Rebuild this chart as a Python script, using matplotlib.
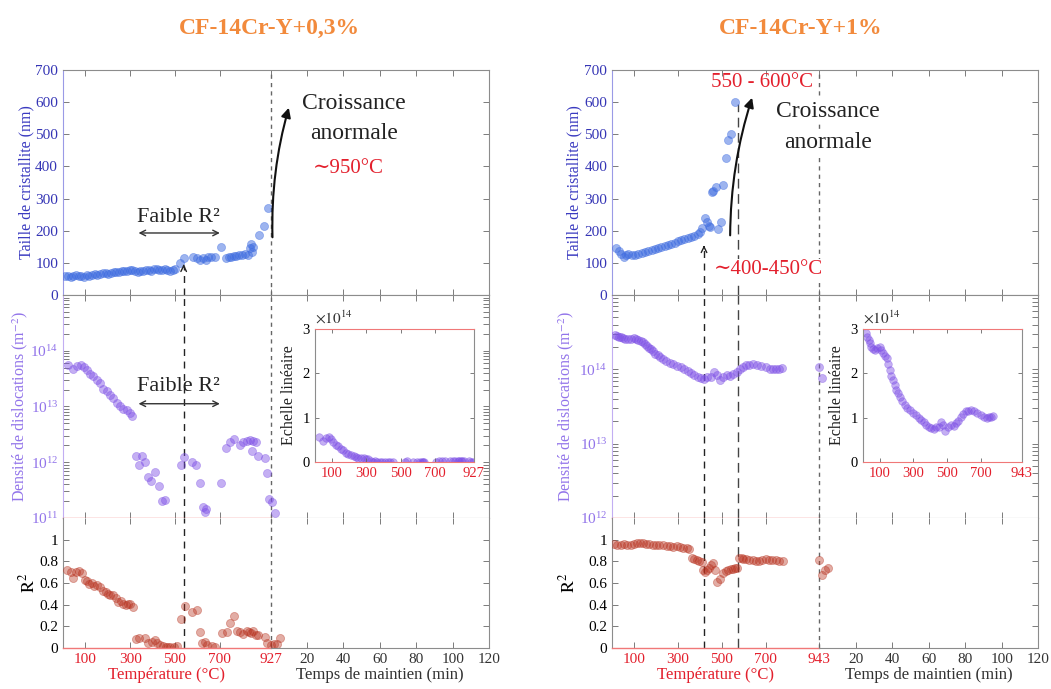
import matplotlib.pyplot as plt
import matplotlib.transforms as mtransforms
from matplotlib.ticker import NullFormatter
import numpy as np

plt.rcParams['font.family'] = ['Liberation Serif', 'DejaVu Serif']
plt.rcParams['mathtext.fontset'] = 'stix'

# ---------------- data : CF-14Cr-Y+0,3% ----------------
temp_taille_03 = [10, 22, 34, 46, 58, 70, 82, 94, 106, 118, 130, 142, 154, 166, 178, 190, 202, 214,
                  226, 238, 250, 262, 274, 286, 298, 310, 322, 334, 346, 358, 370, 382, 394, 406,
                  418, 430, 442, 454, 466, 478, 490, 502, 521, 539, 581, 600, 611, 626, 640, 648,
                  662, 677, 704, 729, 740, 752, 763, 774, 788, 801, 814, 826, 836, 841, 845, 850,
                  875, 899, 915]
taille_03 = [60, 58, 56, 60, 61, 58, 60, 57, 62, 60, 63, 64, 62, 66, 67, 68, 66, 70, 72, 71, 73,
             74, 76, 75, 78, 77, 74, 73, 76, 75, 77, 78, 76, 80, 82, 79, 78, 80, 77, 75, 78, 80,
             100, 114, 119, 116, 109, 114, 110, 119, 117, 119, 148, 114, 118, 119, 122, 121, 123,
             124, 128, 125, 145, 158, 135, 150, 187, 215, 272]

temp_rho_03 = [24, 46, 64, 79, 93, 108, 123, 135, 150, 165, 180, 195, 210, 225, 240, 254, 269, 284,
               299, 310, 325, 339, 352, 365, 379, 392, 410, 428, 441, 455, 526, 539, 575, 593, 611,
               624, 633, 637, 704, 726, 744, 762, 789, 805, 820, 835, 842, 850, 860, 873, 900, 913,
               922]
rho_03 = [5.6e13, 4.7e13, 5.4e13, 5.6e13, 5.2e13, 4.6e13, 3.9e13, 3.5e13, 3.0e13, 2.6e13, 2.1e13,
          1.9e13, 1.6e13, 1.4e13, 1.15e13, 1.0e13, 9.1e12, 8.5e12, 7.6e12, 6.8e12, 1.3e12, 9.1e11,
          1.3e12, 1.0e12, 5.4e11, 4.6e11, 6.6e11, 3.7e11, 2.0e11, 2.1e11, 8.9e11, 1.23e12, 1.0e12,
          8.9e11, 4.3e11, 1.6e11, 1.26e11, 1.45e11, 4.3e11, 1.78e12, 2.3e12, 2.6e12, 2.0e12, 2.3e12,
          2.4e12, 2.5e12, 1.6e12, 2.4e12, 2.3e12, 1.3e12, 1.17e12, 6.3e11, 2.2e11]
time_rho_03 = [1.0, 2.7]
rho_time_03 = [1.95e11, 1.23e11]

temp_r2_03 = [18, 35, 45, 58, 71, 85, 98, 108, 116, 130, 140, 151, 165, 178, 190, 200, 212, 225,
              235, 245, 257, 267, 280, 290, 300, 312, 325, 340, 365, 380, 396, 410, 420, 432, 445,
              460, 468, 480, 495, 508, 526, 544, 575, 597, 611, 620, 633, 645, 664, 680, 709, 731,
              744, 762, 775, 790, 805, 820, 830, 840, 850, 860, 873, 900, 909]
r2_03 = [0.72, 0.70, 0.65, 0.70, 0.71, 0.69, 0.63, 0.62, 0.59, 0.60, 0.57, 0.58, 0.56, 0.53, 0.52,
         0.50, 0.49, 0.49, 0.46, 0.42, 0.43, 0.41, 0.40, 0.41, 0.41, 0.38, 0.08, 0.09, 0.09, 0.05,
         0.06, 0.075, 0.05, 0.03, 0.02, 0.01, 0.01, 0.005, 0.01, 0.02, 0.27, 0.39, 0.33, 0.35,
         0.15, 0.05, 0.06, 0.03, 0.02, 0.01, 0.14, 0.15, 0.23, 0.30, 0.16, 0.15, 0.13, 0.16, 0.15,
         0.14, 0.16, 0.12, 0.12, 0.10, 0.05]
time_r2_03 = [0.5, 2.0, 3.8, 5.4]
r2_time_03 = [0.03, 0.04, 0.04, 0.09]

# ---------------- data : CF-14Cr-Y+1% ----------------
temp_taille_1 = [18, 30, 42, 55, 65, 75, 90, 105, 120, 135, 150, 165, 180, 195, 210, 225, 240, 255,
                 270, 285, 300, 315, 330, 345, 360, 375, 390, 401, 410, 424, 433, 440, 446, 455,
                 460, 474, 483, 497, 506, 519, 528, 542, 560]
taille_1 = [146, 138, 128, 118, 125, 128, 124, 126, 128, 130, 133, 137, 140, 144, 147, 150, 153,
            156, 160, 163, 167, 170, 174, 177, 181, 185, 190, 196, 210, 240, 227, 215, 211, 320,
            323, 336, 205, 227, 342, 426, 482, 501, 600]

temp_rho_1 = [15, 25, 33, 41, 50, 60, 71, 85, 100, 110, 120, 130, 140, 150, 159, 169, 179, 188,
              198, 208, 218, 232, 247, 262, 277, 296, 316, 330, 345, 360, 375, 390, 405, 420, 434,
              449, 464, 477, 490, 507, 523, 538, 552, 567, 581, 596, 611, 625, 640, 660, 680, 700,
              719, 735, 749, 762, 772]
rho_1 = np.array([2.9, 2.83, 2.75, 2.68, 2.6, 2.55, 2.53, 2.58, 2.6, 2.52, 2.45, 2.4, 2.34, 2.2,
                  2.08, 1.95, 1.85, 1.74, 1.63, 1.55, 1.47, 1.38, 1.29, 1.22, 1.17, 1.11, 1.06,
                  1.0, 0.95, 0.9, 0.84, 0.8, 0.76, 0.74, 0.80, 0.78, 0.91, 0.83, 0.71, 0.78, 0.84,
                  0.82, 0.87, 0.92, 1.02, 1.08, 1.14, 1.15, 1.17, 1.14, 1.10, 1.06, 1.02, 1.0,
                  1.01, 1.02, 1.04]) * 1e14
time_rho_1 = [0.2, 1.6]
rho_time_1 = [1.07e14, 0.76e14]

temp_r2_1 = [10, 25, 40, 55, 70, 85, 100, 115, 128, 140, 155, 170, 185, 200, 215, 232, 250, 265,
             280, 296, 310, 325, 342, 352, 364, 375, 387, 398, 410, 415, 425, 433, 440, 450, 460,
             468, 478, 492, 506, 520, 528, 540, 551, 560, 569, 579, 590, 597, 610, 625, 640, 655,
             670, 685, 700, 715, 730, 745, 760, 779]
r2_1 = [0.96, 0.95, 0.95, 0.96, 0.95, 0.95, 0.96, 0.97, 0.97, 0.97, 0.96, 0.96, 0.95, 0.95, 0.95,
        0.95, 0.94, 0.94, 0.93, 0.94, 0.93, 0.92, 0.92, 0.91, 0.83, 0.82, 0.81, 0.80, 0.79, 0.72,
        0.70, 0.72, 0.74, 0.77, 0.78, 0.72, 0.61, 0.64, 0.69, 0.71, 0.72, 0.73, 0.73, 0.74, 0.74,
        0.83, 0.83, 0.82, 0.82, 0.81, 0.81, 0.80, 0.80, 0.81, 0.82, 0.81, 0.81, 0.81, 0.80, 0.80]
time_r2_1 = [0.2, 1.6, 3.3, 5.0]
r2_time_1 = [0.81, 0.67, 0.72, 0.74]

temp_ticks = [100, 300, 500, 700]
time_ticks = [20, 40, 60, 80, 100, 120]
taille_ticks = [0, 100, 200, 300, 400, 500, 600, 700]
r2_ticks = [0, 0.2, 0.4, 0.6, 0.8, 1]
r2_labels = ['0', '0.2', '0.4', '0.6', '0.8', '1']

# colours
BLUE = '#3d6be0'
PURPLE = '#7d4fe6'
BROWN = '#b8321f'
RED = '#e3202d'
LRED = '#f07878'
DARK = '#333333'
EDGE = '#8c8c8c'
ORANGE = '#f28a3c'

fig = plt.figure(figsize=(10.51, 6.89), dpi=100)


def panel(x0, ins_x0, tmax, frac, rho_min, d, labx):
    xmax = tmax / frac

    def tu(t):
        # maintien time (min) -> shared x coordinate after the temperature ramp
        return tmax + np.asarray(t, float) * (xmax - tmax) / 120.0

    w = 0.4055
    ax1 = fig.add_axes([x0, 0.5718, w, 0.3266])
    ax2 = fig.add_axes([x0, 0.2482, w, 0.3237])
    ax3 = fig.add_axes([x0, 0.0595, w, 0.1887])
    xt = temp_ticks + [tmax] + list(tu(time_ticks))
    for ax in (ax1, ax2, ax3):
        ax.set_xlim(0, xmax)
        ax.set_xticks(xt)
        ax.tick_params(which='both', direction='in', top=True, right=True, length=4,
                       width=0.6, color='#666666', labelsize=11)
        for s in ax.spines.values():
            s.set_color(EDGE)
            s.set_linewidth(0.8)
        ax.axvline(tmax, color='#666666', ls=(0, (3, 3)), lw=1, zorder=1)

    # crystallite size
    ax1.scatter(d['tt'], d['taille'], s=34, color=BLUE, alpha=0.5, linewidths=0.5, zorder=3)
    ax1.set_ylim(0, 700)
    ax1.set_yticks(taille_ticks)
    ax1.tick_params(labelbottom=False)
    ax1.tick_params(axis='y', labelcolor='#3535b5')
    ax1.spines['left'].set_color('#9a9ae6')
    ax1.set_ylabel('Taille de cristallite (nm)', color='#3a3ac0', fontsize=11.5)
    ax1.yaxis.set_label_coords(labx[0], 0.5)

    # dislocation density
    ax2.set_yscale('log')
    ax2.scatter(d['tr'], d['rho'], s=34, color=PURPLE, alpha=0.45, linewidths=0.5, zorder=3)
    ax2.scatter(tu(d['tr_t']), d['rho_t'], s=34, color=PURPLE, alpha=0.45, linewidths=0.5, zorder=3)
    ax2.set_ylim(rho_min, 1e15)
    lo = int(round(np.log10(rho_min)))
    ax2.set_yticks([10.0 ** e for e in range(lo, 15)])
    ax2.yaxis.set_minor_formatter(NullFormatter())
    ax2.tick_params(labelbottom=False)
    ax2.tick_params(axis='y', which='both', labelcolor='#9274ea')
    ax2.spines['left'].set_color('#c2aef2')
    ax2.spines['bottom'].set_visible(False)
    ax2.plot([0, frac], [0, 0], transform=ax2.transAxes, color=LRED, lw=1, clip_on=False, zorder=4)
    ax2.plot([frac, 1], [0, 0], transform=ax2.transAxes, color=EDGE, lw=0.8, clip_on=False, zorder=4)
    ax2.set_ylabel('Densité de dislocations (m$^{-2}$)', color='#9274ea', fontsize=11.5)
    ax2.yaxis.set_label_coords(labx[1], 0.5)

    # R2
    ax3.scatter(d['tq'], d['r2'], s=34, color=BROWN, alpha=0.4, linewidths=0.6, zorder=3)
    ax3.scatter(tu(d['tq_t']), d['r2_t'], s=34, color=BROWN, alpha=0.4, linewidths=0.6, zorder=3)
    ax3.set_ylim(0, 1.2)
    ax3.set_yticks(r2_ticks)
    ax3.set_yticklabels(r2_labels)
    ax3.spines['top'].set_visible(False)
    ax3.spines['bottom'].set_visible(False)
    ax3.plot([0, frac], [0, 0], transform=ax3.transAxes, color=LRED, lw=1, clip_on=False, zorder=4)
    ax3.plot([frac, 1], [0, 0], transform=ax3.transAxes, color=EDGE, lw=0.8, clip_on=False, zorder=4)
    labels = [str(v) for v in temp_ticks] + [str(tmax)] + [str(v) for v in time_ticks]
    ax3.set_xticklabels(labels)
    for i, tl in enumerate(ax3.get_xticklabels()):
        tl.set_color(RED if i < 5 else DARK)
    ax3.set_ylabel(r'$\mathrm{R}^2$', color='k', fontsize=13)
    ax3.yaxis.set_label_coords(labx[2], 0.5)
    tr = mtransforms.blended_transform_factory(ax3.transData, ax3.transAxes)
    ax3.text(tmax / 2, -0.21, 'Température (°C)', transform=tr, color=RED, fontsize=12,
             ha='center', va='center')
    ax3.text((tmax + xmax) / 2, -0.21, 'Temps de maintien (min)', transform=tr, color=DARK,
             fontsize=12, ha='center', va='center')

    # linear-scale inset
    axi = fig.add_axes([ins_x0, 0.3295, 0.151, 0.193])
    axi.scatter(d['tr'], np.asarray(d['rho']) / 1e14, s=30, color=PURPLE, alpha=0.45,
                linewidths=0.5)
    axi.set_xlim(0, tmax)
    axi.set_ylim(0, 3)
    axi.set_xticks(temp_ticks + [tmax])
    axi.set_xticklabels([str(v) for v in temp_ticks] + [str(tmax)], color=RED)
    axi.set_yticks([0, 1, 2, 3])
    axi.tick_params(direction='in', top=True, right=True, length=3, width=0.6,
                    color='#666666', labelsize=10.5)
    for k in ('left', 'right'):
        axi.spines[k].set_color(EDGE)
    for k in ('top', 'bottom'):
        axi.spines[k].set_color(LRED)
    axi.set_ylabel('Echelle linéaire', fontsize=11.5, color='#222222', labelpad=4)
    axi.text(0.0, 1.02, r'$\times10^{14}$', transform=axi.transAxes, fontsize=11,
             ha='left', va='bottom', color='#333333')
    return ax1, ax2, ax3, tu


# ---------------- left : 0,3 % ----------------
d03 = dict(tt=temp_taille_03, taille=taille_03, tr=temp_rho_03, rho=rho_03, tr_t=time_rho_03,
           rho_t=rho_time_03, tq=temp_r2_03, r2=r2_03, tq_t=time_r2_03, r2_t=r2_time_03)
a1, a2, a3, tu03 = panel(0.0599, 0.2997, 927, 0.4871, 1e11, d03, (-0.068, -0.077, -0.058))

dash = dict(color='#222222', ls=(0, (5, 4)), lw=1)
a1.plot([539, 539], [0, 90], **dash)
a1.annotate('', xy=(539, 104), xytext=(539, 80),
            arrowprops=dict(arrowstyle='->', color='#222222', lw=1))
a2.axvline(539, **dash)
a3.axvline(539, **dash)

a1.text(517, 242, 'Faible R²', ha='center', va='center', fontsize=16, color='#222222')
a1.annotate('', xy=(713, 193), xytext=(325, 193),
            arrowprops=dict(arrowstyle='<->', color='#333333', lw=1))
a2.text(517, 2.3e13, 'Faible R²', ha='center', va='center', fontsize=16, color='#222222')
a2.annotate('', xy=(713, 1.12e13), xytext=(325, 1.12e13),
            arrowprops=dict(arrowstyle='<->', color='#333333', lw=1))

a1.annotate('', xy=(1012, 591), xytext=(936, 171),
            arrowprops=dict(arrowstyle='-|>', color='#111111', lw=1.5, mutation_scale=14,
                            connectionstyle='arc3,rad=-0.08'))
a1.text(1301, 597, 'Croissance', ha='center', va='center', fontsize=17, color='#222222')
a1.text(1301, 504, 'anormale', ha='center', va='center', fontsize=17, color='#222222')
a1.text(1275, 395, '\u223c950°C', ha='center', va='center', fontsize=15, color=RED)

# ---------------- right : 1 % ----------------
d1 = dict(tt=temp_taille_1, taille=taille_1, tr=temp_rho_1, rho=rho_1, tr_t=time_rho_1,
          rho_t=rho_time_1, tq=temp_r2_1, r2=r2_1, tq_t=time_r2_1, r2_t=r2_time_1)
b1, b2, b3, tu1 = panel(0.5823, 0.8211, 943, 0.4859, 1e12, d1, (-0.070, -0.085, -0.080))

b1.plot([419, 419], [0, 150], **dash)
b1.annotate('', xy=(419, 163), xytext=(419, 140),
            arrowprops=dict(arrowstyle='->', color='#222222', lw=1))
b2.axvline(419, **dash)
b3.axvline(419, **dash)
b1.plot([574, 574], [0, 595], color='#444444', ls=(0, (7, 4)), lw=1)
b2.axvline(574, color='#444444', ls=(0, (7, 4)), lw=1)
b3.axvline(574, color='#444444', ls=(0, (7, 4)), lw=1)

b1.annotate('', xy=(642, 622), xytext=(538, 177),
            arrowprops=dict(arrowstyle='-|>', color='#111111', lw=1.5, mutation_scale=14,
                            connectionstyle='arc3,rad=-0.08'))
wbox = dict(facecolor='white', edgecolor='none', pad=1)
b1.text(683, 660, '550 - 600°C', ha='center', va='center', fontsize=15, color=RED)
b1.text(984, 572, 'Croissance', ha='center', va='center', fontsize=17, color='#222222', bbox=wbox)
b1.text(984, 476, 'anormale', ha='center', va='center', fontsize=17, color='#222222', bbox=wbox)
b1.text(711, 78, '\u223c400-450°C', ha='center', va='center', fontsize=15, color=RED, bbox=wbox)

# titles
fig.text(269 / 1051, 1 - 28 / 689, 'CF-14Cr-Y+0,3%', ha='center', va='center', fontsize=17,
         fontweight='bold', color=ORANGE)
fig.text(801 / 1051, 1 - 28 / 689, 'CF-14Cr-Y+1%', ha='center', va='center', fontsize=17,
         fontweight='bold', color=ORANGE)

fig.savefig('out.png', dpi=100)
